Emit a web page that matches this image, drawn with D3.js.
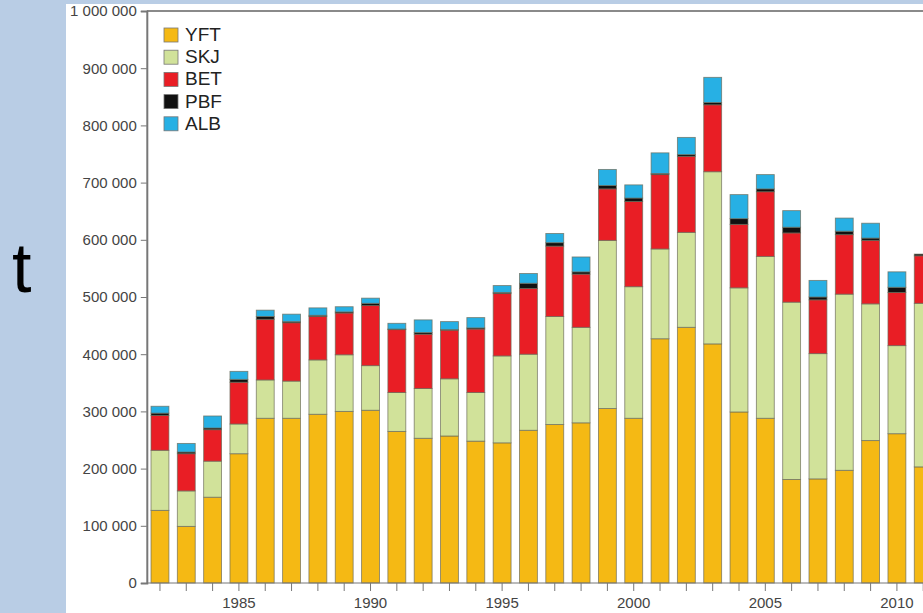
<!DOCTYPE html>
<html lang="en">
<head>
<meta charset="utf-8">
<title>Tuna catch by species</title>
<style>
body{
  margin: 0;
  background: #b9cde5;
  overflow: hidden;
}
svg{
  display: block;
  font-family: "Liberation Sans", Arial, sans-serif;
}
.axis text{
  fill: #444;
  font-size: 15px;
}
.axis path, .axis line{
  stroke: #777;
}
</style>
</head>
<body>
<div id="chart"></div>
<script src="https://cdn.jsdelivr.net/npm/d3@7"></script>
<script>

const width = 923;
const height = 613;

// data, tonnes (thousands)
const years = d3.range(1982, 2012);
const species = ["YFT", "SKJ", "BET", "PBF", "ALB"];
const colours = ["#f5b914", "#d1e29a", "#e91e25", "#111111", "#27b0e4"];
const yft = [127, 99, 150, 226, 288, 288, 295, 300, 302, 265, 253, 257, 248, 245, 267, 277, 280, 305,
             288, 427, 447, 418, 299, 288, 181, 182, 197, 249, 261, 203];
const skj = [105, 62, 63, 52, 67, 65, 95, 99, 78, 68, 87, 100, 85, 152, 133, 189, 167, 294,
             230, 157, 166, 301, 217, 283, 310, 219, 308, 239, 154, 286];
const bet = [61, 65, 55, 73, 106, 102, 76, 73, 105, 110, 95, 85, 111, 109, 115, 123, 93, 90,
             149, 130, 133, 117, 111, 113, 121, 94, 104, 111, 93, 83];
const pbf = [4, 3, 3, 5, 5, 2, 2, 2, 4, 1, 3, 1, 2, 2, 9, 6, 4, 6,
             6, 2, 3, 4, 10, 5, 10, 5, 6, 4, 9, 3];
const alb = [12, 15, 21, 14, 11, 13, 13, 9, 9, 10, 22, 14, 18, 12, 17, 16, 26, 28,
             23, 36, 30, 44, 42, 25, 29, 29, 23, 26, 27, 0];
const yTicks = d3.range(0, 1000001, 100000);
const yearLabels = [1985, 1990, 1995, 2000, 2005, 2010];

const table = years.map((yr, i) => ({
  year: yr,
  YFT: yft[i] * 1000,
  SKJ: skj[i] * 1000,
  BET: bet[i] * 1000,
  PBF: pbf[i] * 1000,
  ALB: alb[i] * 1000
}));

const svg = d3.select('#chart')
  .append('svg')
  .attr('width', width)
  .attr('height', height);

// white panel on the blue slide
svg.append('rect')
  .attr('x', 66)
  .attr('y', 4)
  .attr('width', width)
  .attr('height', height)
  .attr('fill', '#fff');

// unit label on the slide
svg.append('text')
  .attr('x', 12)
  .attr('y', 292)
  .style('font-family', '"Liberation Sans", Arial, sans-serif')
  .style('font-size', '70px')
  .attr('fill', '#000')
  .text('t');

const x0 = 146.8;
const step = 26.32;
const xS = d3.scaleBand()
  .domain(years)
  .range([x0, x0 + years.length * step])
  .paddingInner(0.32)
  .paddingOuter(0.16);

const yS = d3.scaleLinear()
  .domain([0, 1000000])
  .range([583, 11]);

const fmt = d3.formatLocale({ decimal: ".", thousands: " ", grouping: [3], currency: ["", ""] }).format(",");

// frame top
svg.append('line')
  .attr('x1', x0)
  .attr('x2', width + 10)
  .attr('y1', yS(1000000))
  .attr('y2', yS(1000000))
  .attr('stroke', '#8a8a8a')
  .attr('stroke-width', 2);

const stack = d3.stack().keys(species)(table);

svg.append('g')
  .selectAll('g')
  .data(stack)
  .join('g')
  .attr('fill', (d, i) => colours[i])
  .selectAll('rect')
  .data(d => d)
  .join('rect')
  .attr('x', d => xS(d.data.year))
  .attr('width', xS.bandwidth())
  .attr('y', d => yS(d[1]))
  .attr('height', d => yS(d[0]) - yS(d[1]))
  .attr('stroke', '#6b6b5a')
  .attr('stroke-opacity', 0.75)
  .attr('stroke-width', 0.9);

// y axis
const yAxis = svg.append('g')
  .attr('class', 'axis')
  .attr('transform', 'translate(' + x0 + ',0)')
  .call(d3.axisLeft(yS)
    .tickValues(yTicks)
    .tickFormat(fmt)
    .tickSize(6)
    .tickPadding(4));
yAxis.select('.domain').attr('stroke-width', 2);

// x axis
const xAxis = svg.append('g')
  .attr('class', 'axis')
  .attr('transform', 'translate(0,583)')
  .call(d3.axisBottom(xS)
    .tickFormat(d => yearLabels.includes(d) ? d : '')
    .tickSize(8)
    .tickPadding(6)
    .tickSizeOuter(0));
xAxis.select('.domain').attr('d', 'M' + x0 + ',0H' + (width + 10));

// legend
const legend = svg.append('g')
  .selectAll('g')
  .data(species)
  .join('g')
  .attr('transform', (d, i) => 'translate(164,' + (28 + i * 22.2) + ')');

legend.append('rect')
  .attr('width', 14)
  .attr('height', 14)
  .attr('fill', (d, i) => colours[i])
  .attr('stroke', '#777')
  .attr('stroke-width', 0.8);

legend.append('text')
  .attr('x', 21)
  .attr('y', 13)
  .style('font-size', '19px')
  .attr('fill', '#222')
  .text(d => d);

</script>
</body>
</html>
